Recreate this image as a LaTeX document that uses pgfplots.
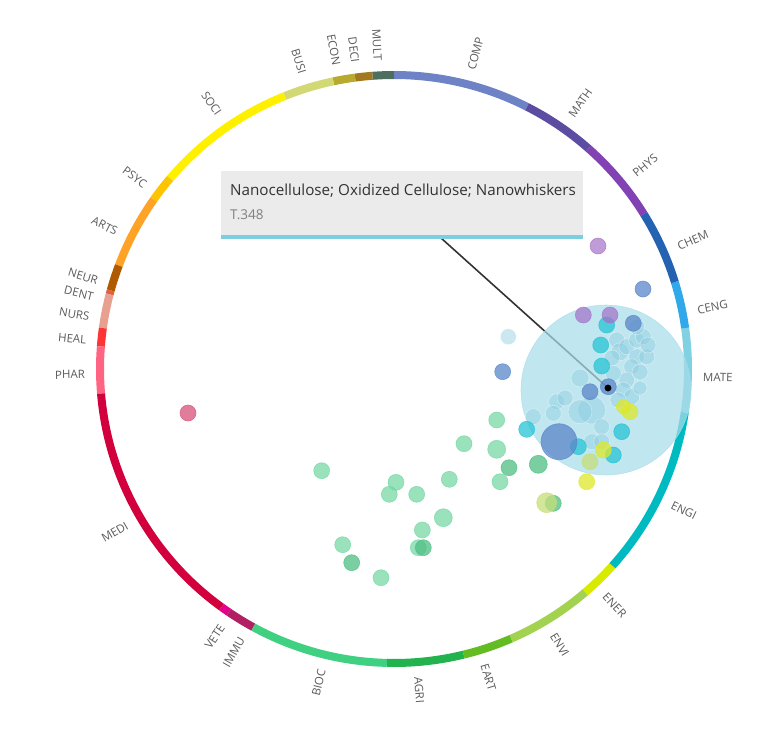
\documentclass[border=0pt]{standalone}
\usepackage{pgfplots}
\pgfplotsset{compat=1.18}
\usepackage{fontspec}
\setmainfont{Open Sans}
% ring colours
\definecolor{cCOMP}{HTML}{6E83C6}
\definecolor{cMULT}{HTML}{4E6E60}
\definecolor{cDECI}{HTML}{A2791E}
\definecolor{cECON}{HTML}{B7AA2E}
\definecolor{cBUSI}{HTML}{D2D874}
\definecolor{cSOCI}{HTML}{FFF000}
\definecolor{cPSYC}{HTML}{FFC400}
\definecolor{cARTS}{HTML}{FFA326}
\definecolor{cNEUR}{HTML}{B05A00}
\definecolor{cDENT}{HTML}{E2623E}
\definecolor{cNURS}{HTML}{E8A090}
\definecolor{cHEAL}{HTML}{FF3434}
\definecolor{cPHAR}{HTML}{FF6482}
\definecolor{cMEDI}{HTML}{D2003C}
\definecolor{cVETE}{HTML}{E4008C}
\definecolor{cIMMU}{HTML}{B22064}
\definecolor{cBIOC}{HTML}{40D082}
\definecolor{cAGRI}{HTML}{22B24E}
\definecolor{cEART}{HTML}{62BC22}
\definecolor{cENVI}{HTML}{A2D250}
\definecolor{cENER}{HTML}{D8EA00}
\definecolor{cENGI}{HTML}{00BAC2}
\definecolor{cMATE}{HTML}{80D2E2}
\definecolor{cCENG}{HTML}{30A8EA}
\definecolor{cCHEM}{HTML}{2462B2}
\definecolor{cPHYS}{HTML}{8242B4}
\definecolor{cMATH}{HTML}{5C4CA2}
% bubble colours
\definecolor{bGreenL}{HTML}{6ED6A0}
\definecolor{bGreenD}{HTML}{4DBE82}
\definecolor{bYG}{HTML}{C6DE78}
\definecolor{bTeal}{HTML}{26C4D4}
\definecolor{bBlue}{HTML}{5A86C8}
\definecolor{bPurple}{HTML}{A470C8}
\definecolor{bYellow}{HTML}{DDE82A}
\definecolor{bPink}{HTML}{D8507A}
\definecolor{bCyanL}{HTML}{8CCDE0}
\definecolor{bBig}{HTML}{A8DCEA}
\definecolor{labgray}{HTML}{5A5A5A}
\definecolor{tipbg}{HTML}{EBEBEB}
\definecolor{tipline}{HTML}{7CCFE0}
\definecolor{tiptext}{HTML}{333333}
\definecolor{tipsub}{HTML}{808080}

\pgfplotstableread{
x y r
606 390 85
}\tblBig
\pgfplotstableread{
x y r
580 378 9
556.7 401.7 8
565 398 8
591.7 410 14
580 411.7 12
533.3 416.7 8
553.3 413.3 8
601.7 426.7 8
591.7 441.7 8
601.7 441.7 8
616.7 340 8
620 351.7 9
626.7 346.7 8
636.7 340 8
643.3 336.7 8
636.7 356.7 8
646.7 356.7 8
631.7 366.7 8
626.7 380 8
613.3 373.3 8
623.3 390 8
631.7 396.7 8
636.7 326.7 8
612 358 8
640 372 8
648 345 8
618 400 8
640 388 7
508.3 336.7 8
}\tblCyanL
\pgfplotstableread{
x y r
321.7 470.7 8
396 482.3 8
389.3 494.3 8
416.7 494.3 8
449.3 479.3 8
464 443.7 8
496.7 420 8
496.7 449.3 9
500 481.7 8
443.3 517.7 9
422.3 530 8
418.3 547.7 8
342.7 544.7 8
381 577.7 8
}\tblGreenL
\pgfplotstableread{
x y r
509 467.7 8
538.3 464.3 9
423.3 547.7 8
351.7 562.7 8
553.3 503.3 8
}\tblGreenD
\pgfplotstableread{
x y r
546.7 502.7 10
590 461.7 8
}\tblYG
\pgfplotstableread{
x y r
526.7 429.3 8
606.7 325 8
600.7 345 8
601.7 366 8
621.7 431.7 8
578.3 446.7 8
613.3 455 8
}\tblTeal
\pgfplotstableread{
x y r
502.7 371.7 8
590 391.7 8
608.3 386.7 8
633.3 323.3 8
643 289 8
559 441.7 18
}\tblBlue
\pgfplotstableread{
x y r
583.3 315 8
610 315 8
598 246 8
}\tblPurple
\pgfplotstableread{
x y r
630 411.7 8
623.3 406.7 7
586.7 481.7 8
603.3 450 8
}\tblYellow
\pgfplotstableread{
x y r
188 413 8
}\tblPink

\pgfplotsset{
  bub/.style n args={3}{only marks, scatter, mark=*,
    scatter/use mapped color={draw=#2, fill=#1, fill opacity=#3, draw opacity=#3, line width=0.6pt},
    visualization depends on={\thisrow{r}\as\rr},
    scatter/@pre marker code/.append style={/tikz/mark size=\rr}},
}
\tikzset{lab/.style={font=\fontsize{11.5}{13}\selectfont, text=labgray, inner sep=0pt}}

\begin{document}
\begin{tikzpicture}
\begin{axis}[hide axis, scale only axis, width=782pt, height=747pt,
  xmin=0, xmax=782, ymin=0, ymax=747, y dir=reverse, clip=false]
\path (axis cs:0,0) rectangle (axis cs:782,747);
% ring segments: start angle / end angle / colour
\foreach \s/\e/\col in {63.1/90/cCOMP, 90/94.2/cMULT, 94.2/97.6/cDECI, 97.6/101.9/cECON,
  101.9/111.8/cBUSI, 111.8/139.6/cSOCI, 139.6/144.8/cPSYC, 144.8/159.4/cARTS,
  159.4/164.5/cNEUR, 164.5/165.3/cDENT, 165.3/172/cNURS, 172/175.6/cHEAL,
  175.6/184.8/cPHAR, 184.8/234.1/cMEDI, 234.1/235.8/cVETE, 235.8/241.4/cIMMU,
  241.4/268.6/cBIOC, 268.6/283.7/cAGRI, 283.7/293.5/cEART, 293.5/310.6/cENVI,
  310.6/318/cENER, 318/351.5/cENGI, 351.5/368/cMATE, 8/17.2/cCENG,
  17.2/31.8/cCHEM, 31.8/48.6/cPHYS, 48.6/63.1/cMATH}{
  \edef\tmp{\noexpand\draw[line width=8pt, \col] (axis cs:394,369) ++(\s:294pt) arc[start angle=\s, end angle=\e, radius=294pt];}
  \tmp
}
% labels right side
\foreach \a/\n in {75.5/COMP, 55/MATH, 39/PHYS, 23.3/CHEM, 11/CENG, -1.5/MATE,
  -26/ENGI, -47/ENER, -59/ENVI, -73/EART, -85.5/AGRI}{
  \edef\tmp{\noexpand\path (axis cs:394,369) ++(\a:309pt) node[lab, rotate=\a, anchor=west] {\n};}
  \tmp
}
% labels left side
\foreach \a/\n in {93/MULT, 97.2/DECI, 100.7/ECON, 107.2/BUSI, 124.5/SOCI, 143.5/PSYC,
  153.7/ARTS, 163.4/NEUR, 166.5/DENT, 170.3/NURS, 174.6/HEAL, 181/PHAR,
  210.3/MEDI, 236.2/VETE, 240.5/IMMU, 256.5/BIOC}{
  \pgfmathsetmacro\rot{\a-180}
  \edef\tmp{\noexpand\path (axis cs:394,369) ++(\a:309pt) node[lab, rotate=\rot, anchor=east] {\n};}
  \tmp
}
% bubbles
\addplot[bub={bBig}{bBig}{0.72}] table {\tblBig};
\addplot[bub={bCyanL}{white}{0.45}] table {\tblCyanL};
\addplot[bub={bGreenL}{bGreenL}{0.7}] table {\tblGreenL};
\addplot[bub={bGreenD}{bGreenD}{0.75}] table {\tblGreenD};
\addplot[bub={bYG}{bYG}{0.75}] table {\tblYG};
\addplot[bub={bTeal}{bTeal}{0.75}] table {\tblTeal};
\addplot[bub={bBlue}{bBlue}{0.75}] table {\tblBlue};
\addplot[bub={bPurple}{bPurple}{0.7}] table {\tblPurple};
\addplot[bub={bYellow}{bYellow}{0.75}] table {\tblYellow};
\addplot[bub={bPink}{bPink}{0.75}] table {\tblPink};
% tooltip leader
\addplot[color=tiptext, line width=1.6pt, no marks] coordinates {(441,238) (608,388)};
\addplot[only marks, mark=*, mark size=3.2, color=black] coordinates {(608,388)};
% tooltip box
\fill[tipbg] (axis cs:221,171) rectangle (axis cs:583,238);
\fill[tipline] (axis cs:221,235) rectangle (axis cs:583,239);
\node[anchor=west, inner sep=0pt, text=tiptext, font=\fontsize{15.2}{17}\selectfont] at (axis cs:230,191) {Nanocellulose; Oxidized Cellulose; Nanowhiskers};
\node[anchor=west, inner sep=0pt, text=tipsub, font=\fontsize{13.5}{15}\selectfont] at (axis cs:230,215) {T.348};
\end{axis}
\end{tikzpicture}
\end{document}
